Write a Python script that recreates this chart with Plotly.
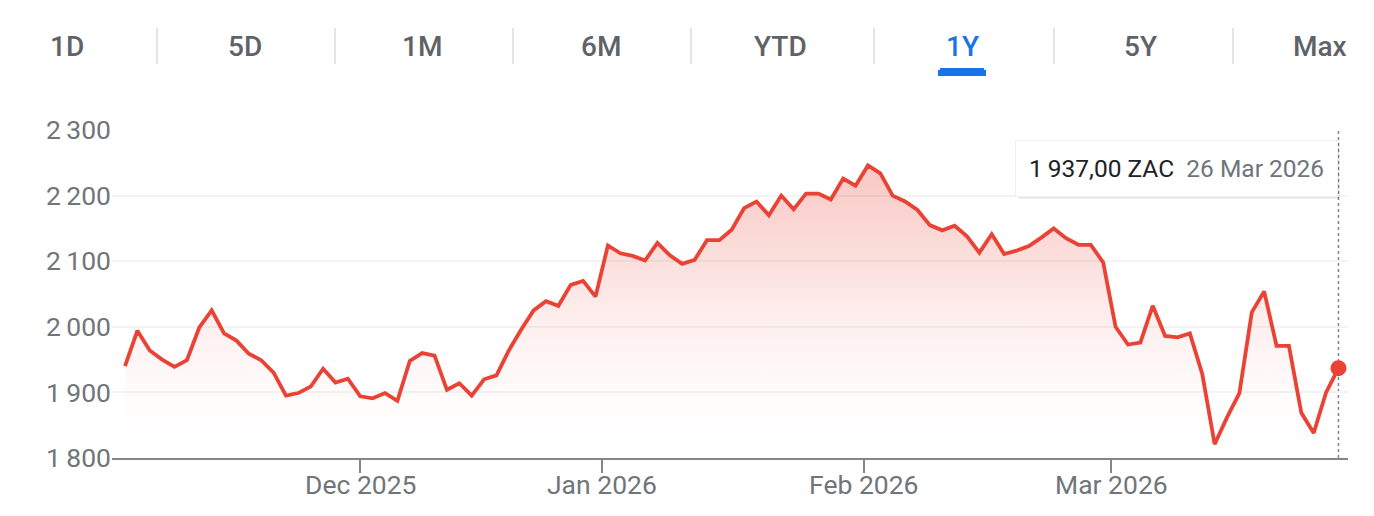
import numpy as np
import pandas as pd
import plotly.graph_objects as go

# ---------------- data ----------------
start_date = "2025-11-04"
end_date = "2026-03-26"
market_holidays = ["2025-12-16", "2025-12-25", "2025-12-26", "2026-01-01"]

prices = [1940, 1994, 1964, 1950, 1939, 1949, 1999, 2025, 1990, 1979,
          1959, 1949, 1930, 1895, 1899, 1909, 1936, 1915, 1921, 1894,
          1891, 1899, 1887, 1948, 1960, 1956, 1904, 1914, 1895, 1920,
          1926, 1964, 1996, 2025, 2039, 2032, 2064, 2070, 2046, 2124,
          2112, 2108, 2101, 2128, 2109, 2096, 2102, 2132, 2132, 2148,
          2181, 2191, 2170, 2200, 2179, 2203, 2203, 2194, 2226, 2215,
          2246, 2234, 2200, 2191, 2178, 2155, 2147, 2154, 2138, 2113,
          2141, 2111, 2116, 2123, 2136, 2150, 2135, 2125, 2125, 2098,
          2000, 1973, 1976, 2032, 1986, 1984, 1990, 1928, 1821, 1862,
          1899, 2022, 2054, 1971, 1971, 1869, 1838, 1900, 1937]

month_ticks = ["2025-12-01", "2026-01-01", "2026-02-01", "2026-03-01"]
y_ticks = [1800, 1900, 2000, 2100, 2200, 2300]
currency = "ZAC"

tab_labels = ["1D", "5D", "1M", "6M", "YTD", "1Y", "5Y", "Max"]
active_tab = "1Y"

# ---------------- derived ----------------
dates = pd.bdate_range(start_date, end_date)
dates = dates[~dates.isin(pd.to_datetime(market_holidays))]
assert len(dates) == len(prices)
idx = np.arange(len(prices))

date_ord = np.array([d.toordinal() for d in dates])
tick_dates = pd.to_datetime(month_ticks)
tick_pos = np.interp([d.toordinal() for d in tick_dates], date_ord, idx)
tick_text = [d.strftime("%b %Y") for d in tick_dates]
THIN = "\u2009"
y_tick_text = [f"{v:,}".replace(",", THIN) for v in y_ticks]

last_val = prices[-1]
val_txt = f"{last_val:,.2f}".replace(",", "X").replace(".", ",").replace("X", THIN)
date_txt = f"{dates[-1].day} {dates[-1].strftime('%b %Y')}"

# ---------------- layout geometry ----------------
W, H = 1374, 516
ML, MR, MT, MB = 112, 26, 130, 58
PW, PH = W - ML - MR, H - MT - MB


def px_x(px):
    return (px - ML) / PW


def px_y(py):
    return (H - MB - py) / PH


RED = "#ea4335"
GREY_TXT = "#70757a"
FONT = "Roboto"
AX_FONT = 26.5

fig = go.Figure()
fig.add_trace(go.Scatter(
    x=idx, y=prices, mode="lines",
    line=dict(color=RED, width=3.8),
    fill="tozeroy",
    fillgradient=dict(type="vertical", start=1800, stop=2250,
                      colorscale=[[0, "rgba(234,67,53,0)"],
                                  [0.22, "rgba(234,67,53,0.02)"],
                                  [0.45, "rgba(234,67,53,0.08)"],
                                  [1, "rgba(234,67,53,0.30)"]]),
    hoverinfo="skip", showlegend=False,
))
fig.add_trace(go.Scatter(
    x=[idx[-1]], y=[last_val], mode="markers",
    marker=dict(color=RED, size=16),
    hoverinfo="skip", showlegend=False,
))

shapes = []
# dotted cursor line at the last point
shapes.append(dict(type="line", xref="x", yref="paper", x0=idx[-1], x1=idx[-1], y0=0, y1=1,
                   line=dict(color="#80868b", width=1.5, dash="3px,3px"), layer="below"))
# tab separators
for sx in [157, 335, 513, 691, 874, 1054, 1233]:
    shapes.append(dict(type="line", xref="paper", yref="paper",
                       x0=px_x(sx), x1=px_x(sx), y0=px_y(28), y1=px_y(64),
                       line=dict(color="#dadce0", width=1.5)))
# active tab indicator (rounded top)
shapes.append(dict(type="rect", xref="paper", yref="paper",
                   x0=px_x(938), x1=px_x(986), y0=px_y(76), y1=px_y(70),
                   fillcolor="#1a73e8", line=dict(width=0)))
shapes.append(dict(type="rect", xref="paper", yref="paper",
                   x0=px_x(940), x1=px_x(984), y0=px_y(71), y1=px_y(68),
                   fillcolor="#1a73e8", line=dict(width=0)))
# tooltip shadow
shapes.append(dict(type="rect", xref="paper", yref="paper",
                   x0=px_x(1018.5), x1=px_x(1339.5), y0=px_y(198.5), y1=px_y(143),
                   fillcolor="rgba(0,0,0,0.10)", line=dict(width=0)))

annotations = []
tab_centers = [67, 245, 422, 601, 780, 962, 1140, 1320]
for lab, cx in zip(tab_labels, tab_centers):
    annotations.append(dict(
        text=lab, xref="paper", yref="paper", x=px_x(cx), y=px_y(46),
        xanchor="center", yanchor="middle", showarrow=False,
        font=dict(family=FONT, size=28, weight=500,
                  color="#1a73e8" if lab == active_tab else "#5f6368"),
    ))
# month labels under the tick marks
for tp, tt in zip(tick_pos, tick_text):
    annotations.append(dict(
        text=tt, xref="x", yref="paper", x=tp, y=px_y(484),
        xanchor="center", yanchor="middle", showarrow=False,
        font=dict(family=FONT, size=AX_FONT, color=GREY_TXT),
    ))
annotations.append(dict(
    text=f"<span style='color:#202124'>{val_txt} {currency}</span>\u00a0\u00a0"
         f"<span style='color:{GREY_TXT}'>{date_txt}</span>",
    xref="x", yref="paper", x=idx[-1], y=px_y(168),
    xanchor="right", yanchor="middle", showarrow=False,
    bgcolor="white", bordercolor="#f1f1f1", borderwidth=1, borderpad=13,
    font=dict(family=FONT, size=24.5, color="#202124"),
))

fig.update_layout(
    width=W, height=H,
    margin=dict(l=ML, r=MR, t=MT, b=MB, pad=0),
    paper_bgcolor="white", plot_bgcolor="white",
    font=dict(family=FONT, size=AX_FONT, color=GREY_TXT),
    hovermode=False,
    shapes=shapes, annotations=annotations,
    xaxis=dict(
        range=[-1.05, len(prices) - 1 + 0.77],
        tickmode="array", tickvals=tick_pos, ticktext=tick_text,
        showticklabels=False,
        showgrid=False, zeroline=False,
        showline=True, linecolor="#80868b", linewidth=2,
        ticks="outside", ticklen=13, tickwidth=2, tickcolor="#80868b",
        fixedrange=True,
    ),
    yaxis=dict(
        range=[1800, 2300],
        tickmode="array", tickvals=y_ticks, ticktext=y_tick_text,
        showgrid=True, gridcolor="#f1f3f4", gridwidth=1.5,
        zeroline=False, showline=False, ticks="",
        tickfont=dict(family=FONT, size=AX_FONT, color=GREY_TXT),
        fixedrange=True,
    ),
)

fig.write_html("out.html", config={"displayModeBar": False},
               post_script="document.body.style.margin='0';")
